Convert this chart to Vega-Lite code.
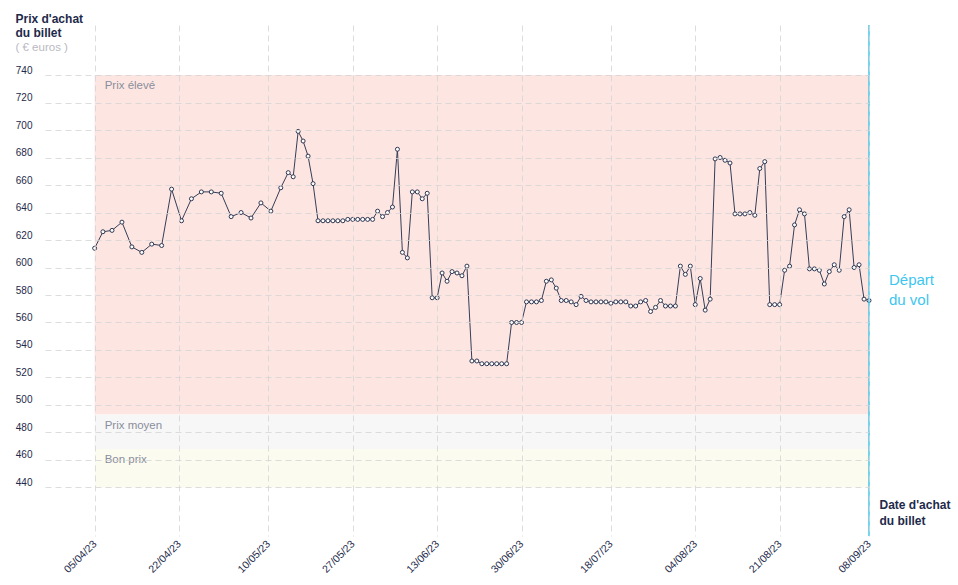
{
  "$schema": "https://vega.github.io/schema/vega-lite/v6.json",
  "autosize": {"type": "none"},
  "width": 824,
  "height": 511,
  "padding": {"left": 45, "top": 25, "right": 89, "bottom": 49},
  "background": "white",
  "config": {
    "view": {"stroke": null},
    "font": "Liberation Sans, Arial, sans-serif"
  },
  "datasets": {
    "bands": [
      {"label": "Prix élevé", "start": "2023-04-05", "end": "2023-09-08", "lo": 493, "hi": 740, "kind": "eleve"},
      {"label": "Prix moyen", "start": "2023-04-05", "end": "2023-09-08", "lo": 468, "hi": 493, "kind": "moyen"},
      {"label": "Bon prix", "start": "2023-04-05", "end": "2023-09-08", "lo": 440, "hi": 468, "kind": "bon"}
    ],
    "depart": [
      {"date": "2023-09-08", "label": "Départ\ndu vol"}
    ],
    "prices": [
      {"date": "2023-04-05T00:00:00Z", "price": 614},
      {"date": "2023-04-06T16:00:00Z", "price": 626},
      {"date": "2023-04-08T12:00:00Z", "price": 627},
      {"date": "2023-04-10T12:00:00Z", "price": 633},
      {"date": "2023-04-12T12:00:00Z", "price": 615},
      {"date": "2023-04-14T12:00:00Z", "price": 611},
      {"date": "2023-04-16T12:00:00Z", "price": 617},
      {"date": "2023-04-18T12:00:00Z", "price": 616},
      {"date": "2023-04-20T12:00:00Z", "price": 657},
      {"date": "2023-04-22T12:00:00Z", "price": 634},
      {"date": "2023-04-24T12:00:00Z", "price": 650},
      {"date": "2023-04-26T12:00:00Z", "price": 655},
      {"date": "2023-04-28T12:00:00Z", "price": 655},
      {"date": "2023-04-30T12:00:00Z", "price": 654},
      {"date": "2023-05-02T12:00:00Z", "price": 637},
      {"date": "2023-05-04T12:00:00Z", "price": 640},
      {"date": "2023-05-06T12:00:00Z", "price": 636},
      {"date": "2023-05-08T12:00:00Z", "price": 647},
      {"date": "2023-05-10T12:00:00Z", "price": 641},
      {"date": "2023-05-12T12:00:00Z", "price": 658},
      {"date": "2023-05-14", "price": 669},
      {"date": "2023-05-15", "price": 666},
      {"date": "2023-05-16", "price": 699},
      {"date": "2023-05-17", "price": 692},
      {"date": "2023-05-18", "price": 681},
      {"date": "2023-05-19", "price": 661},
      {"date": "2023-05-20", "price": 634},
      {"date": "2023-05-21", "price": 634},
      {"date": "2023-05-22", "price": 634},
      {"date": "2023-05-23", "price": 634},
      {"date": "2023-05-24", "price": 634},
      {"date": "2023-05-25", "price": 634},
      {"date": "2023-05-26", "price": 635},
      {"date": "2023-05-27", "price": 635},
      {"date": "2023-05-28", "price": 635},
      {"date": "2023-05-29", "price": 635},
      {"date": "2023-05-30", "price": 635},
      {"date": "2023-05-31", "price": 635},
      {"date": "2023-06-01", "price": 641},
      {"date": "2023-06-02", "price": 637},
      {"date": "2023-06-03", "price": 640},
      {"date": "2023-06-04", "price": 644},
      {"date": "2023-06-05", "price": 686},
      {"date": "2023-06-06", "price": 611},
      {"date": "2023-06-07", "price": 607},
      {"date": "2023-06-08", "price": 655},
      {"date": "2023-06-09", "price": 655},
      {"date": "2023-06-10", "price": 650},
      {"date": "2023-06-11", "price": 654},
      {"date": "2023-06-12", "price": 578},
      {"date": "2023-06-13", "price": 578},
      {"date": "2023-06-14", "price": 596},
      {"date": "2023-06-15", "price": 590},
      {"date": "2023-06-16", "price": 597},
      {"date": "2023-06-17", "price": 596},
      {"date": "2023-06-18", "price": 594},
      {"date": "2023-06-19", "price": 601},
      {"date": "2023-06-20", "price": 532},
      {"date": "2023-06-21", "price": 532},
      {"date": "2023-06-22", "price": 530},
      {"date": "2023-06-23", "price": 530},
      {"date": "2023-06-24", "price": 530},
      {"date": "2023-06-25", "price": 530},
      {"date": "2023-06-26", "price": 530},
      {"date": "2023-06-27", "price": 530},
      {"date": "2023-06-28", "price": 560},
      {"date": "2023-06-29", "price": 560},
      {"date": "2023-06-30", "price": 560},
      {"date": "2023-07-01", "price": 575},
      {"date": "2023-07-02", "price": 575},
      {"date": "2023-07-03", "price": 575},
      {"date": "2023-07-04", "price": 576},
      {"date": "2023-07-05", "price": 590},
      {"date": "2023-07-06", "price": 591},
      {"date": "2023-07-07", "price": 585},
      {"date": "2023-07-08", "price": 576},
      {"date": "2023-07-09", "price": 576},
      {"date": "2023-07-10", "price": 575},
      {"date": "2023-07-11", "price": 573},
      {"date": "2023-07-12", "price": 579},
      {"date": "2023-07-13", "price": 576},
      {"date": "2023-07-14", "price": 575},
      {"date": "2023-07-15", "price": 575},
      {"date": "2023-07-16", "price": 575},
      {"date": "2023-07-17", "price": 575},
      {"date": "2023-07-18", "price": 574},
      {"date": "2023-07-19", "price": 575},
      {"date": "2023-07-20", "price": 575},
      {"date": "2023-07-21", "price": 575},
      {"date": "2023-07-22", "price": 572},
      {"date": "2023-07-23", "price": 572},
      {"date": "2023-07-24", "price": 575},
      {"date": "2023-07-25", "price": 576},
      {"date": "2023-07-26", "price": 568},
      {"date": "2023-07-27", "price": 571},
      {"date": "2023-07-28", "price": 576},
      {"date": "2023-07-29", "price": 572},
      {"date": "2023-07-30", "price": 572},
      {"date": "2023-07-31", "price": 572},
      {"date": "2023-08-01", "price": 601},
      {"date": "2023-08-02", "price": 595},
      {"date": "2023-08-03", "price": 601},
      {"date": "2023-08-04", "price": 573},
      {"date": "2023-08-05", "price": 592},
      {"date": "2023-08-06", "price": 569},
      {"date": "2023-08-07", "price": 577},
      {"date": "2023-08-08", "price": 679},
      {"date": "2023-08-09", "price": 680},
      {"date": "2023-08-10", "price": 678},
      {"date": "2023-08-11", "price": 676},
      {"date": "2023-08-12", "price": 639},
      {"date": "2023-08-13", "price": 639},
      {"date": "2023-08-14", "price": 639},
      {"date": "2023-08-15", "price": 640},
      {"date": "2023-08-16", "price": 638},
      {"date": "2023-08-17", "price": 672},
      {"date": "2023-08-18", "price": 677},
      {"date": "2023-08-19", "price": 573},
      {"date": "2023-08-20", "price": 573},
      {"date": "2023-08-21", "price": 573},
      {"date": "2023-08-22", "price": 598},
      {"date": "2023-08-23", "price": 601},
      {"date": "2023-08-24", "price": 631},
      {"date": "2023-08-25", "price": 642},
      {"date": "2023-08-26", "price": 639},
      {"date": "2023-08-27", "price": 599},
      {"date": "2023-08-28", "price": 599},
      {"date": "2023-08-29", "price": 598},
      {"date": "2023-08-30", "price": 588},
      {"date": "2023-08-31", "price": 597},
      {"date": "2023-09-01", "price": 602},
      {"date": "2023-09-02", "price": 598},
      {"date": "2023-09-03", "price": 637},
      {"date": "2023-09-04", "price": 642},
      {"date": "2023-09-05", "price": 600},
      {"date": "2023-09-06", "price": 602},
      {"date": "2023-09-07", "price": 577},
      {"date": "2023-09-08", "price": 576}
    ]
  },
  "resolve": {"axis": {"y": "independent"}},
  "layer": [
    {
      "data": {"name": "bands"},
      "mark": {"type": "rect"},
      "encoding": {
        "x": {
          "field": "start", "type": "temporal",
          "scale": {"type": "utc", "domain": [{"year": 2023, "month": 3, "date": 26, "utc": true}, {"year": 2023, "month": 9, "date": 8, "utc": true}]},
          "axis": {
            "values": [
              {"year": 2023, "month": 4, "date": 5, "utc": true},
              {"year": 2023, "month": 4, "date": 22, "utc": true},
              {"year": 2023, "month": 5, "date": 10, "utc": true},
              {"year": 2023, "month": 5, "date": 27, "utc": true},
              {"year": 2023, "month": 6, "date": 13, "utc": true},
              {"year": 2023, "month": 6, "date": 30, "utc": true},
              {"year": 2023, "month": 7, "date": 18, "utc": true},
              {"year": 2023, "month": 8, "date": 4, "utc": true},
              {"year": 2023, "month": 8, "date": 21, "utc": true},
              {"year": 2023, "month": 9, "date": 8, "utc": true}
            ],
            "labelExpr": "utcFormat(datum.value, '%d/%m/%y')",
            "labelAngle": -45,
            "labelAlign": "right",
            "labelBaseline": "middle",
            "labelPadding": 6,
            "labelFontSize": 10.5,
            "labelColor": "#1e2a4a",
            "labelFlush": false,
            "labelOverlap": false,
            "domain": false,
            "ticks": false,
            "grid": true,
            "gridDash": [6, 4],
            "gridColor": "#d4d4d4",
            "gridOpacity": 0.8,
            "title": ["Date d'achat", "du billet"],
            "titleAngle": 0,
            "titleAlign": "left",
            "titleBaseline": "top",
            "titleX": 834,
            "titleY": -37,
            "titleFontSize": 12,
            "titleFontWeight": "bold",
            "titleColor": "#1e2a4a",
            "titleLineHeight": 16,
            "zindex": 1
          }
        },
        "x2": {"field": "end"},
        "y": {
          "field": "lo", "type": "quantitative",
          "scale": {"domain": [404.7, 776.4], "nice": false, "zero": false},
          "axis": {
            "values": [440, 460, 480, 500, 520, 540, 560, 580, 600, 620, 640, 660, 680, 700, 720, 740],
            "grid": true,
            "gridDash": [6, 4],
            "gridColor": "#d4d4d4",
            "gridOpacity": 0.8,
            "domain": false,
            "ticks": false,
            "labelPadding": 13,
            "labelOffset": -5,
            "labelColor": "#1e2a4a",
            "labelFontSize": 10,
            "title": ["Prix d'achat", "du billet"],
            "titleAngle": 0,
            "titleAlign": "left",
            "titleBaseline": "top",
            "titleX": -30,
            "titleY": -12,
            "titleFontSize": 12,
            "titleFontWeight": "bold",
            "titleColor": "#1e2a4a",
            "titleLineHeight": 14.5,
            "zindex": 1
          }
        },
        "y2": {"field": "hi"},
        "color": {
          "field": "kind", "type": "nominal", "legend": null,
          "scale": {"domain": ["eleve", "moyen", "bon"], "range": ["#fde6e1", "#f7f7f7", "#fbfbf0"]}
        }
      }
    },
    {
      "data": {"name": "bands"},
      "mark": {"type": "text", "align": "left", "baseline": "middle", "dx": 10, "dy": 11, "fontSize": 11.5, "color": "#8a8e9c"},
      "encoding": {
        "x": {"field": "start", "type": "temporal"},
        "y": {"field": "hi", "type": "quantitative", "axis": null},
        "text": {"field": "label"}
      }
    },
    {
      "data": {"name": "prices"},
      "mark": {
        "type": "line",
        "color": "#363d58",
        "strokeWidth": 1,
        "point": {"filled": true, "fill": "white", "stroke": "#2f3753", "strokeWidth": 1, "size": 16}
      },
      "encoding": {
        "x": {"field": "date", "type": "temporal"},
        "y": {
          "field": "price", "type": "quantitative",
          "axis": {
            "orient": "left",
            "labels": false,
            "ticks": false,
            "domain": false,
            "grid": false,
            "title": "( € euros )",
            "titleAngle": 0,
            "titleAlign": "left",
            "titleBaseline": "middle",
            "titleX": -30,
            "titleY": 22,
            "titleFontSize": 11.5,
            "titleFontWeight": "normal",
            "titleColor": "#b9b9c2"
          }
        }
      }
    },
    {
      "data": {"name": "depart"},
      "mark": {"type": "rule", "color": "#45c6ec", "strokeWidth": 1.5},
      "encoding": {
        "x": {"field": "date", "type": "temporal"}
      }
    },
    {
      "data": {"name": "depart"},
      "mark": {"type": "text", "align": "left", "baseline": "middle", "dx": 20, "fontSize": 15, "lineHeight": 20, "lineBreak": "\n", "color": "#3cc6ef"},
      "encoding": {
        "x": {"field": "date", "type": "temporal"},
        "y": {"datum": 591, "type": "quantitative", "axis": null},
        "text": {"field": "label"}
      }
    }
  ]
}
